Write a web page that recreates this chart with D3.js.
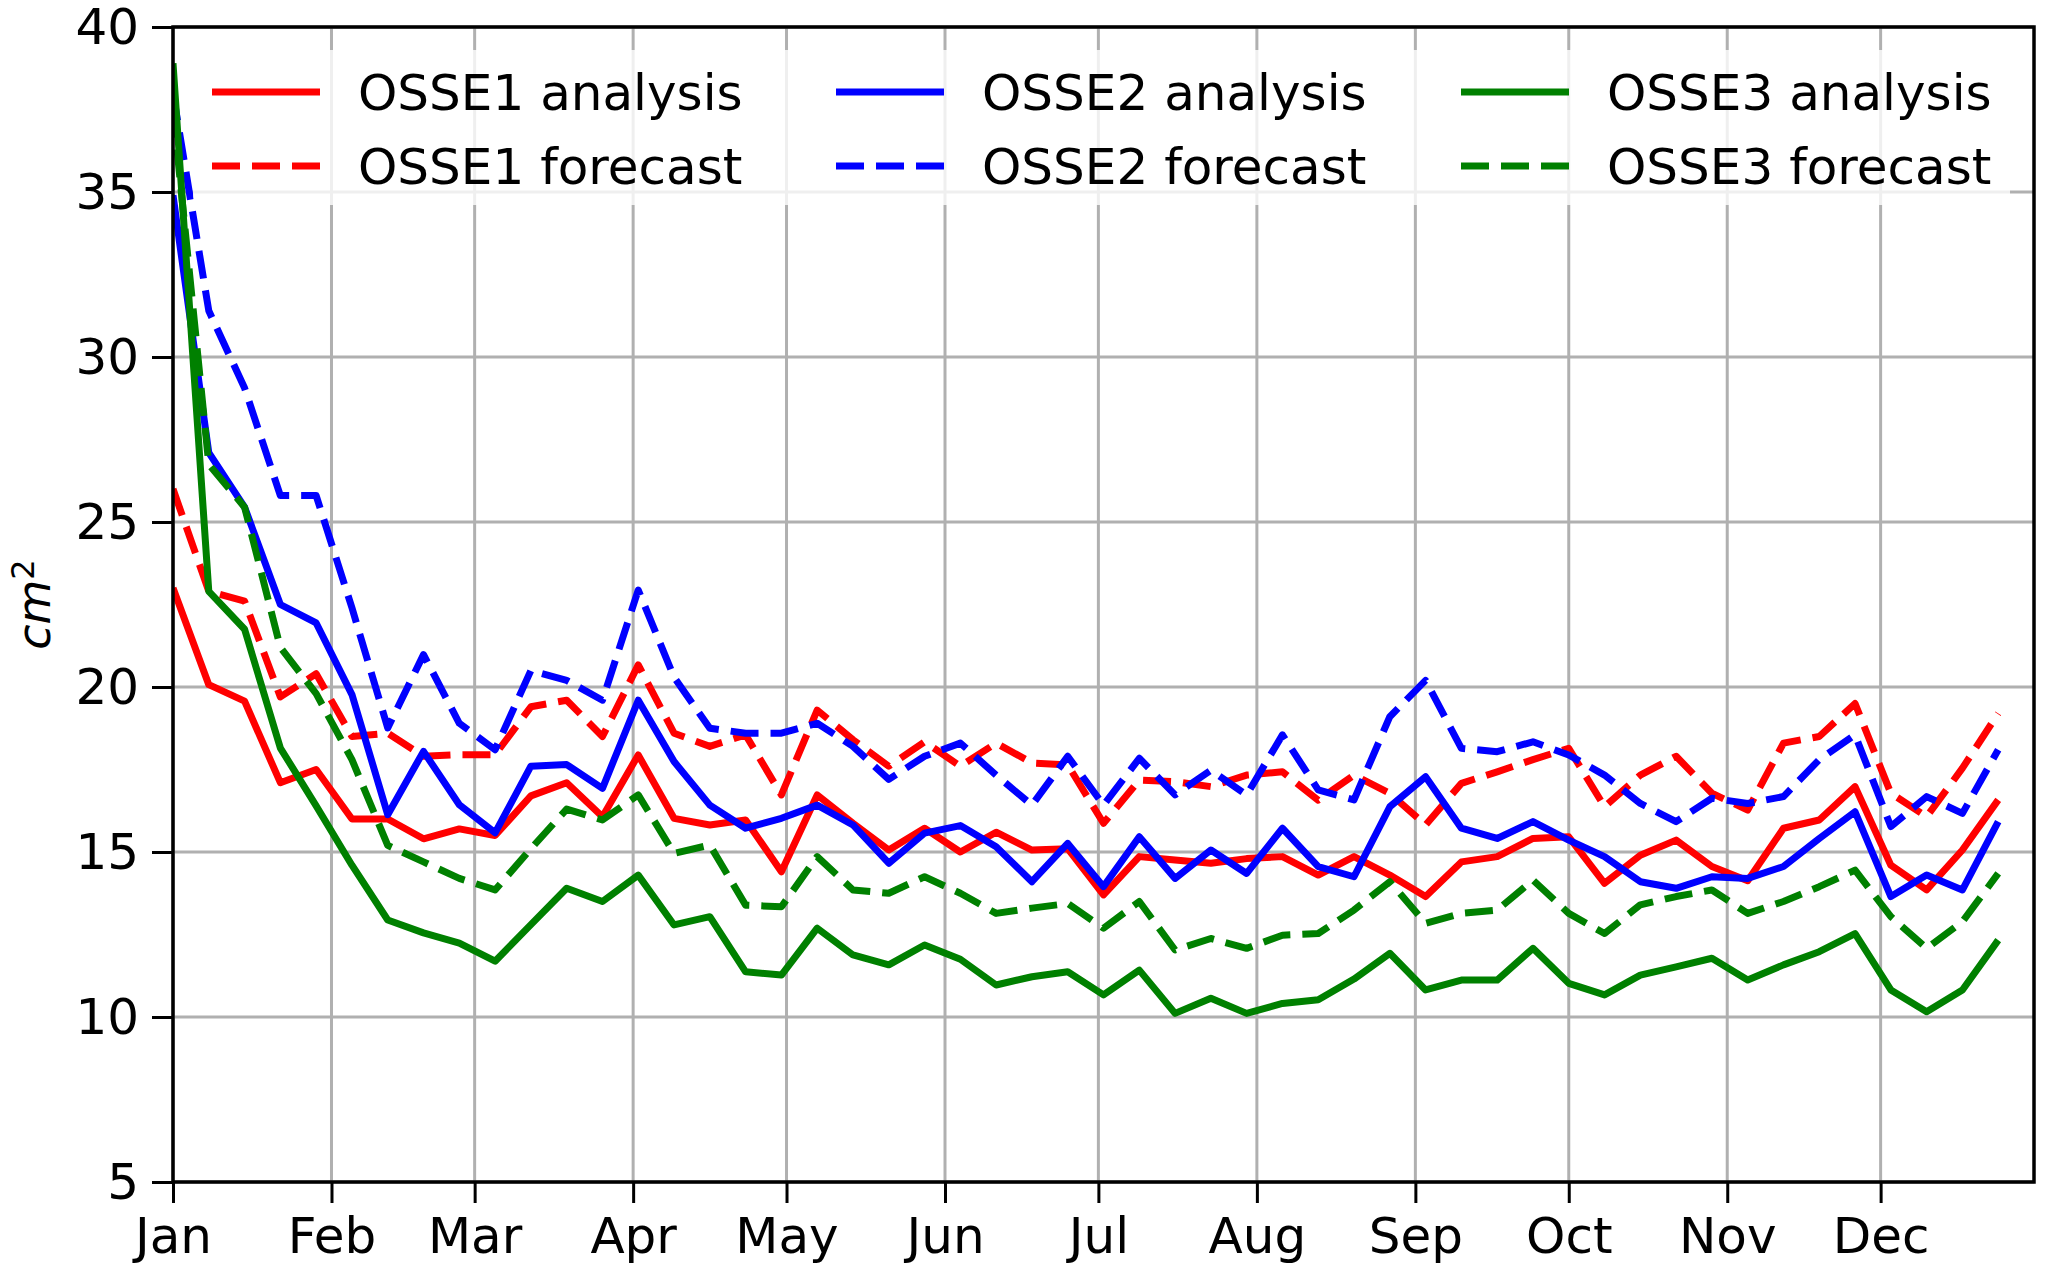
<!DOCTYPE html>
<html>
<head>
<meta charset="utf-8">
<script src="https://cdn.jsdelivr.net/npm/d3@7"></script>
<style>
  body { margin: 0; background: #fff; }
  text { font-family: "DejaVu Sans", sans-serif; }
</style>
</head>
<body>
<svg width="2045" height="1269"></svg>
<script>
var svg = d3.select("svg"),
  width = +svg.attr("width"),
  height = +svg.attr("height");

// weekly values, first week starting Jan 1
var osse1Analysis = [23.0, 20.07, 19.57, 17.1, 17.5, 16.0, 16.0, 15.4, 15.7, 15.5, 16.7, 17.1,
  16.07, 17.94, 16.02, 15.82, 15.97, 14.4, 16.73, 15.87, 15.06, 15.72, 15.0, 15.6, 15.06, 15.1,
  13.7, 14.86, 14.76, 14.66, 14.8, 14.86, 14.3, 14.86, 14.3, 13.65, 14.7, 14.86, 15.41, 15.46,
  14.05, 14.9, 15.36, 14.56, 14.13, 15.72, 15.97, 16.98, 14.6, 13.85, 15.06, 16.58];
var osse1Forecast = [26.0, 22.9, 22.6, 19.7, 20.4, 18.5, 18.6, 17.9, 17.95, 17.95, 19.4, 19.6,
  18.5, 20.67, 18.6, 18.2, 18.55, 16.73, 19.3, 18.4, 17.6, 18.34, 17.6, 18.3, 17.7, 17.64,
  15.87, 17.18, 17.13, 16.98, 17.33, 17.43, 16.57, 17.33, 16.78, 15.82, 17.08, 17.43, 17.8, 18.14,
  16.37, 17.33, 17.9, 16.78, 16.27, 18.3, 18.5, 19.5, 16.78, 16.07, 17.54, 19.2];
var osse2Analysis = [34.9, 27.1, 25.45, 22.5, 21.94, 19.77, 16.13, 18.05, 16.43, 15.58, 17.6, 17.65,
  16.93, 19.6, 17.74, 16.42, 15.72, 16.02, 16.42, 15.82, 14.66, 15.57, 15.8, 15.16, 14.1, 15.26,
  13.95, 15.46, 14.2, 15.06, 14.35, 15.72, 14.56, 14.25, 16.37, 17.28, 15.72, 15.41, 15.92, 15.36,
  14.86, 14.1, 13.9, 14.25, 14.2, 14.56, 15.41, 16.22, 13.65, 14.3, 13.85, 15.92];
var osse2Forecast = [38.0, 31.4, 29.06, 25.8, 25.8, 22.4, 18.76, 20.98, 18.9, 18.1, 20.5, 20.2,
  19.6, 22.94, 20.3, 18.75, 18.6, 18.6, 18.9, 18.2, 17.2, 17.9, 18.3, 17.33, 16.42, 17.9,
  16.42, 17.84, 16.73, 17.48, 16.73, 18.55, 16.88, 16.58, 19.1, 20.2, 18.14, 18.04, 18.34, 17.94,
  17.33, 16.47, 15.92, 16.63, 16.47, 16.68, 17.8, 18.55, 15.77, 16.68, 16.17, 18.1];
var osse3Analysis = [38.9, 22.9, 21.75, 18.15, 16.4, 14.6, 12.94, 12.55, 12.24, 11.69, 12.8, 13.9,
  13.5, 14.3, 12.79, 13.04, 11.37, 11.27, 12.69, 11.88, 11.58, 12.18, 11.75, 10.97, 11.22, 11.37,
  10.67, 11.42, 10.11, 10.57, 10.11, 10.41, 10.52, 11.15, 11.93, 10.82, 11.12, 11.12, 12.08, 11.02,
  10.67, 11.27, 11.52, 11.78, 11.12, 11.58, 11.98, 12.53, 10.82, 10.16, 10.82, 12.33];
var osse3Forecast = [37.5, 26.75, 25.45, 21.2, 19.8, 17.8, 15.2, 14.7, 14.2, 13.85, 15.1, 16.3,
  15.97, 16.73, 14.96, 15.21, 13.39, 13.34, 14.86, 13.85, 13.75, 14.25, 13.75, 13.14, 13.3, 13.44,
  12.69, 13.5, 12.03, 12.38, 12.08, 12.48, 12.53, 13.24, 14.1, 12.84, 13.14, 13.24, 14.15, 13.14,
  12.53, 13.4, 13.65, 13.85, 13.14, 13.5, 13.95, 14.45, 13.04, 12.08, 12.89, 14.35];

var monthLabels = ["Jan", "Feb", "Mar", "Apr", "May", "Jun", "Jul", "Aug", "Sep", "Oct", "Nov", "Dec"];
var yTicks = [5, 10, 15, 20, 25, 30, 35, 40];
var yLabel = "cm";

var series = [
  { name: "OSSE1 analysis", values: osse1Analysis, color: "#ff0000", dashed: false },
  { name: "OSSE1 forecast", values: osse1Forecast, color: "#ff0000", dashed: true },
  { name: "OSSE2 analysis", values: osse2Analysis, color: "#0000ff", dashed: false },
  { name: "OSSE2 forecast", values: osse2Forecast, color: "#0000ff", dashed: true },
  { name: "OSSE3 analysis", values: osse3Analysis, color: "#008000", dashed: false },
  { name: "OSSE3 forecast", values: osse3Forecast, color: "#008000", dashed: true }
];

var start = new Date(Date.UTC(2019, 0, 1)),
  end = new Date(Date.UTC(2019, 11, 31));
function weekDate(i) { return d3.utcDay.offset(start, 7 * i); }

var plot = { left: 173, right: 2034, top: 27, bottom: 1182 };
var fontSize = 50;

var x = d3.scaleUtc().domain([start, end]).range([plot.left, plot.right]);
var y = d3.scaleLinear().domain([5, 40]).range([plot.bottom, plot.top]);

// grid
var months = d3.utcMonths(start, end);
svg.append("g").selectAll("line").data(months).join("line")
  .attr("x1", d => x(d)).attr("x2", d => x(d))
  .attr("y1", plot.top).attr("y2", plot.bottom)
  .attr("stroke", "#b0b0b0").attr("stroke-width", 3);
svg.append("g").selectAll("line").data(yTicks).join("line")
  .attr("x1", plot.left).attr("x2", plot.right)
  .attr("y1", d => y(d)).attr("y2", d => y(d))
  .attr("stroke", "#b0b0b0").attr("stroke-width", 3);

// data lines
svg.append("clipPath").attr("id", "clip")
  .append("rect")
  .attr("x", plot.left).attr("y", plot.top)
  .attr("width", plot.right - plot.left).attr("height", plot.bottom - plot.top);

var line = d3.line()
  .x((d, i) => x(weekDate(i)))
  .y(d => y(d));

svg.append("g").attr("clip-path", "url(#clip)")
  .selectAll("path").data(series).join("path")
  .attr("d", d => line(d.values))
  .attr("fill", "none")
  .attr("stroke", d => d.color)
  .attr("stroke-width", 7)
  .attr("stroke-linejoin", "round")
  .attr("stroke-dasharray", d => d.dashed ? "28,12" : null);

// axes
var xAxis = d3.axisBottom(x)
  .tickValues(months)
  .tickSize(21)
  .tickPadding(14)
  .tickFormat((d, i) => monthLabels[i]);
var gx = svg.append("g")
  .attr("transform", "translate(0," + plot.bottom + ")")
  .call(xAxis);

var yAxis = d3.axisLeft(y)
  .tickValues(yTicks)
  .tickSize(21)
  .tickPadding(13)
  .tickFormat(d3.format("d"));
var gy = svg.append("g")
  .attr("transform", "translate(" + plot.left + ",0)")
  .call(yAxis);

[gx, gy].forEach(function (g) {
  g.select(".domain").remove();
  g.selectAll(".tick line").attr("stroke", "#000").attr("stroke-width", 3);
  g.selectAll(".tick text")
    .attr("fill", "#000")
    .style("font-size", fontSize + "px")
    .style("font-family", "'DejaVu Sans', sans-serif");
});

// frame
svg.append("rect")
  .attr("x", plot.left).attr("y", plot.top)
  .attr("width", plot.right - plot.left).attr("height", plot.bottom - plot.top)
  .attr("fill", "none").attr("stroke", "#000").attr("stroke-width", 3.5);

// y label
var yl = svg.append("text")
  .attr("transform", "translate(50," + (plot.top + plot.bottom) / 2 + ") rotate(-90)")
  .attr("text-anchor", "middle")
  .style("font-size", "46px");
yl.append("tspan").style("font-style", "italic").text(yLabel);
yl.append("tspan").attr("dy", "-0.5em").style("font-size", "32px").text("2");

// legend
var legend = svg.append("g");
legend.append("rect")
  .attr("x", 193).attr("y", 50)
  .attr("width", 1817).attr("height", 155)
  .attr("rx", 8)
  .attr("fill", "#fff").attr("fill-opacity", 0.8);

var colX = [212, 836, 1461], rowY = [92, 166];
var items = legend.selectAll("g.item").data(series).join("g")
  .attr("class", "item")
  .attr("transform", (d, i) => "translate(" + colX[Math.floor(i / 2)] + "," + rowY[i % 2] + ")");
items.append("line")
  .attr("x1", 0).attr("x2", 108)
  .attr("stroke", d => d.color)
  .attr("stroke-width", 7)
  .attr("stroke-dasharray", d => d.dashed ? "28,12" : null);
items.append("text")
  .attr("x", 146).attr("dy", "0.36em")
  .style("font-size", fontSize + "px")
  .text(d => d.name);
</script>
</body>
</html>
